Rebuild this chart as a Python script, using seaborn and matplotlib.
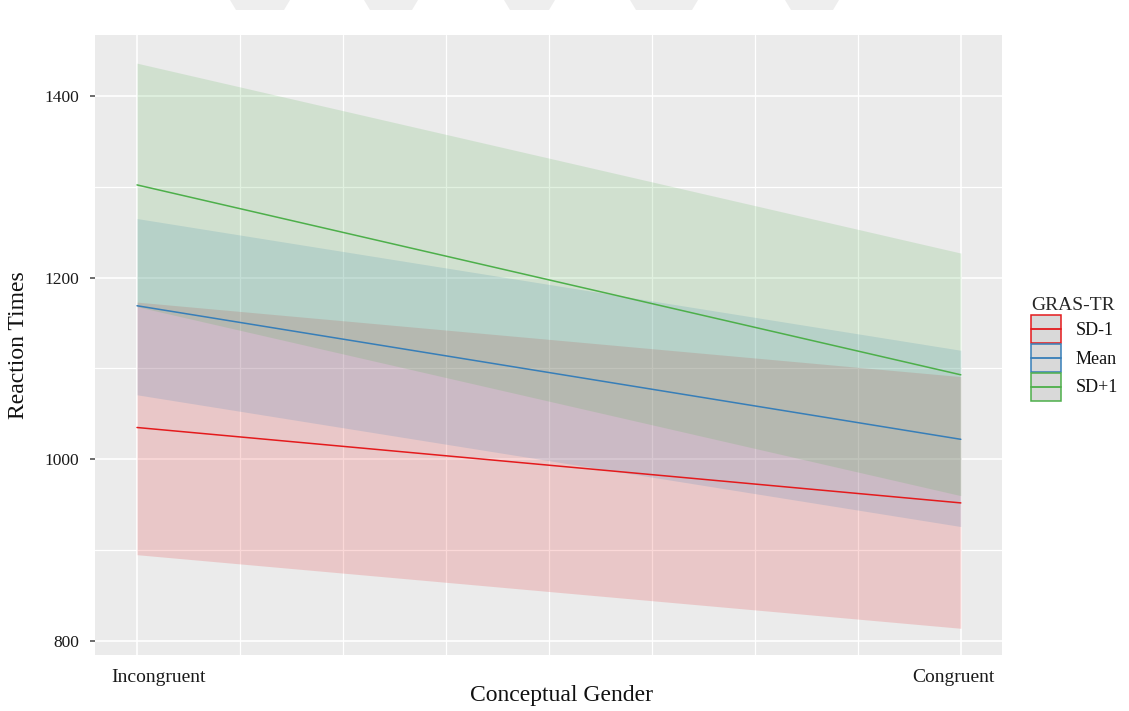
import numpy as np
import pandas as pd
import seaborn as sns
import matplotlib
matplotlib.use("Agg")
import matplotlib.pyplot as plt
import matplotlib.transforms as mtransforms
from matplotlib.patches import Rectangle, Polygon
from matplotlib.lines import Line2D
from matplotlib.legend_handler import HandlerBase
from matplotlib.ticker import MultipleLocator, FixedLocator

# Predicted reaction times by conceptual gender at three GRAS-TR levels
conditions = ["Incongruent", "Congruent"]
condition_pos = [0, 1]
groups = ["SD-1", "Mean", "SD+1"]

rt_sd_minus = [1035, 952]
rt_mean = [1169, 1022]
rt_sd_plus = [1302, 1093]

lower_sd_minus = [895, 814]
upper_sd_minus = [1173, 1091]
lower_mean = [1071, 926]
upper_mean = [1265, 1120]
lower_sd_plus = [1168, 960]
upper_sd_plus = [1436, 1227]

y_ticks = [800, 1000, 1200, 1400]
colors = ["#E41A1C", "#377EB8", "#4DAF4A"]

fits = [rt_sd_minus, rt_mean, rt_sd_plus]
lowers = [lower_sd_minus, lower_mean, lower_sd_plus]
uppers = [upper_sd_minus, upper_mean, upper_sd_plus]

df = pd.DataFrame({
    "x": condition_pos * len(groups),
    "rt": [v for f in fits for v in f],
    "group": [g for g in groups for _ in condition_pos],
})

sns.set_theme(style="darkgrid")
plt.rcParams["font.family"] = ["Liberation Serif", "DejaVu Serif"]

W, H = 1129, 711
fig = plt.figure(figsize=(W / 100, H / 100), dpi=100)
fig.patch.set_facecolor("white")

# faint header shapes along the top edge of the page
for x0, x1 in [(230, 290), (364, 418), (504, 555), (630, 698), (785, 839)]:
    pts = [(x0, 0), (x1, 0), (x1 - 6, 10), (x0 + 6, 10)]
    fig.patches.append(Polygon([(px / W, 1 - py / H) for px, py in pts], closed=True,
                               transform=fig.transFigure, facecolor="#eeeeee",
                               edgecolor="none"))

ax = fig.add_axes([95 / W, 56 / H, 907 / W, 620 / H])
ax.set_facecolor("#ebebeb")

# confidence ribbons
for lo, hi, c in zip(lowers, uppers, colors):
    ax.fill_between(condition_pos, lo, hi, color=c, alpha=0.17, linewidth=0, zorder=2)

sns.lineplot(data=df, x="x", y="rt", hue="group", hue_order=groups, palette=colors,
             linewidth=1.1, legend=False, ax=ax, zorder=3)

ax.set_xlim(-0.051, 1.05)
ax.set_ylim(784.6, 1467)

ax.xaxis.set_major_locator(FixedLocator(condition_pos))
ax.xaxis.set_minor_locator(MultipleLocator(0.125))
ax.set_xticklabels(conditions)
ax.yaxis.set_major_locator(FixedLocator(y_ticks))
ax.yaxis.set_minor_locator(MultipleLocator(100))

ax.grid(True, which="major", color="white", linewidth=1.2)
ax.grid(True, which="minor", color="white", linewidth=0.9)
ax.set_axisbelow(True)
for s in ax.spines.values():
    s.set_visible(False)

ax.tick_params(axis="x", which="both", bottom=False, length=0, pad=10, labelsize=14,
               labelcolor="#1a1a1a")
ax.tick_params(axis="y", which="major", left=True, length=3.5, width=1.1, color="#444444",
               pad=8, labelsize=12.5, labelcolor="#1a1a1a")
ax.tick_params(axis="y", which="minor", left=False, length=0)

# shift the two category labels inwards
offsets = [22, -7]
for lab, dx in zip(ax.get_xticklabels(), offsets):
    lab.set_transform(lab.get_transform() +
                      mtransforms.ScaledTranslation(dx / 100, 0, fig.dpi_scale_trans))

ax.set_xlabel("Conceptual Gender", fontsize=17, color="#111111")
ax.set_ylabel("Reaction Times", fontsize=17, color="#111111")
ax.xaxis.set_label_coords((561 - 95) / 907, -(696 - 655) / 620)
ax.xaxis.label.set_verticalalignment("center")
ax.yaxis.set_label_coords((19 - 95) / 907, 0.5)
ax.yaxis.label.set_verticalalignment("center")


class KeyHandler(HandlerBase):
    def create_artists(self, legend, orig_handle, xdescent, ydescent, width, height,
                       fontsize, trans):
        c = orig_handle.get_color()
        rect = Rectangle((-xdescent, -ydescent), width, height, facecolor="#d9d9d9",
                         edgecolor=c, linewidth=1.1, transform=trans)
        ym = -ydescent + height / 2
        line = Line2D([-xdescent, -xdescent + width], [ym, ym], color=c, linewidth=1.3,
                      transform=trans)
        return [rect, line]


handles = [Line2D([], [], color=c) for c in colors]
leg = fig.legend(handles, groups, title="GRAS-TR", loc="upper left",
                 bbox_to_anchor=(1023 / W, 1 - 289 / H), bbox_transform=fig.transFigure,
                 frameon=False, borderpad=0.45, borderaxespad=0, fontsize=13,
                 title_fontsize=14, handlelength=1.67, handleheight=2.0,
                 labelspacing=0.05, handletextpad=0.8, alignment="left",
                 handler_map={Line2D: KeyHandler()})
for t in leg.get_texts():
    t.set_color("#111111")

fig.savefig("out.png", dpi=100, facecolor="white")
